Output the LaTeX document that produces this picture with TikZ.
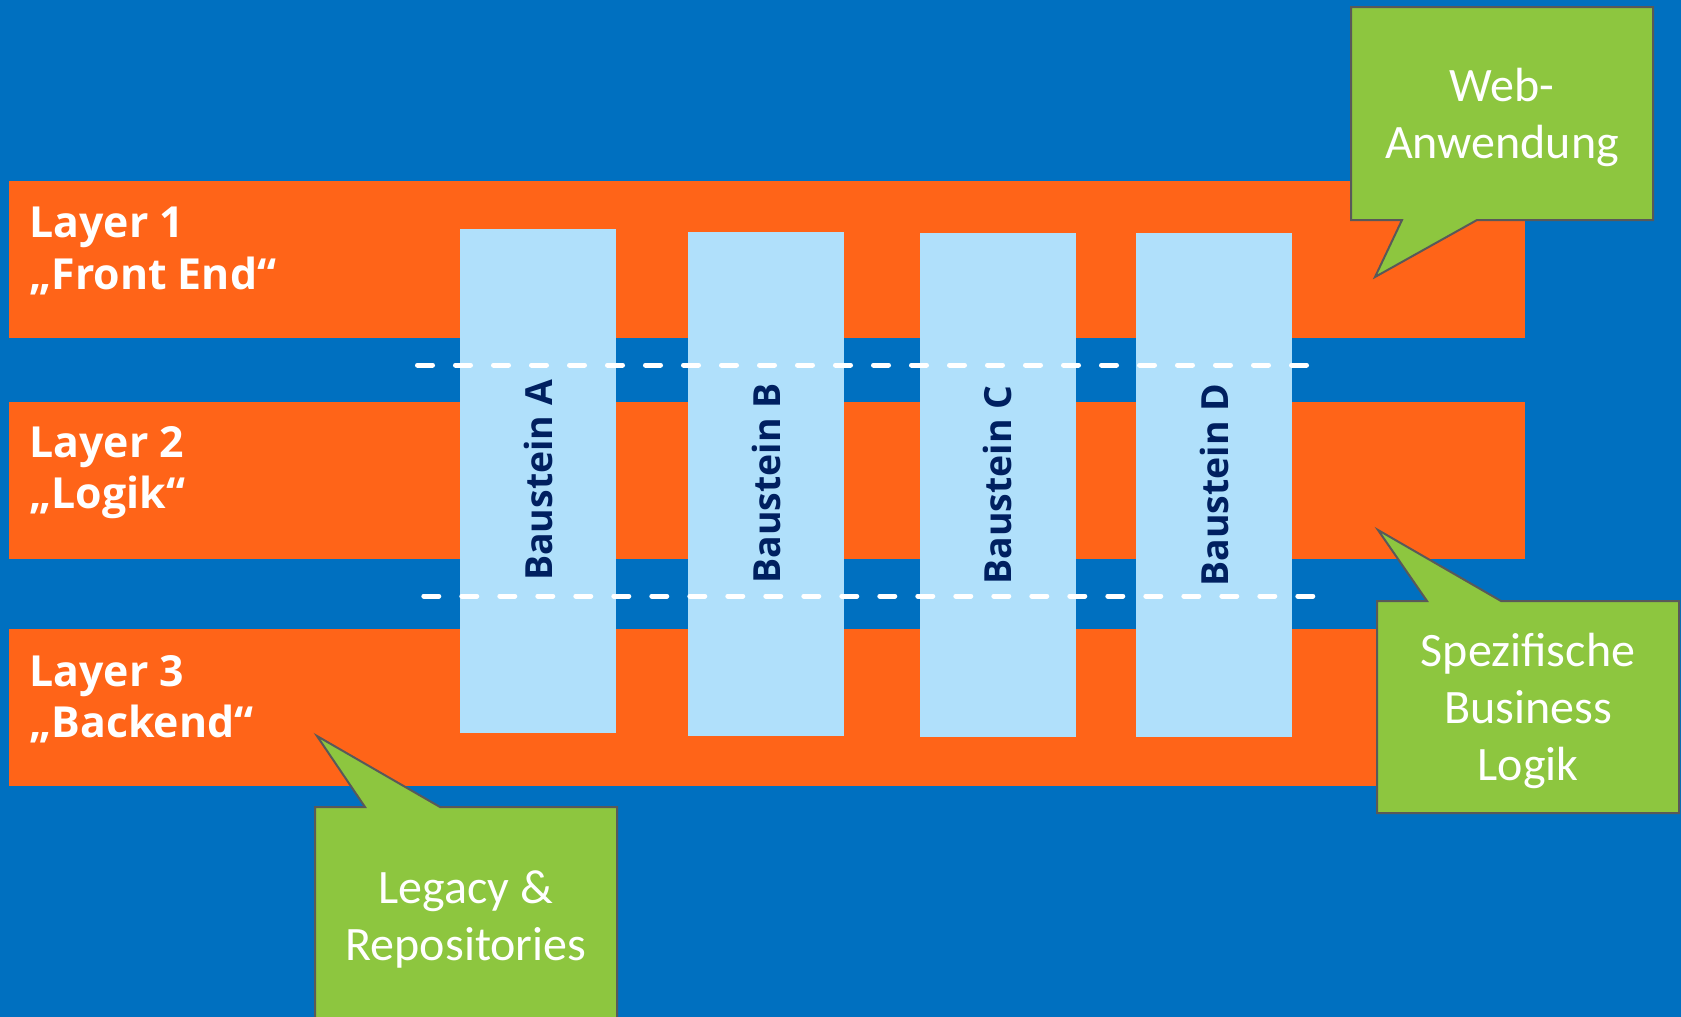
\documentclass[tikz,border=0pt]{standalone}
\usepackage{fontspec}
\usepackage{xcolor}
\newfontfamily\layerfont{Open Sans}
\newfontfamily\calloutfont{Carlito}
\definecolor{bgblue}{HTML}{0070C0}
\definecolor{layerorange}{HTML}{FF6418}
\definecolor{boxblue}{HTML}{B0E0FB}
\definecolor{boxtext}{HTML}{002060}
\definecolor{calloutgreen}{HTML}{8DC63F}
\definecolor{calloutline}{HTML}{595959}

\tikzset{
  layerlabel/.style={anchor=north west, align=left, text=white,
    font=\layerfont\bfseries\fontsize{21.4}{25.7}\selectfont},
  baustein/.style={fill=boxblue, text=boxtext, rotate=90,
    minimum width=252pt, minimum height=78pt,
    font=\layerfont\bfseries\fontsize{18.7}{22}\selectfont},
  callout/.style={align=center, text=white,
    font=\calloutfont\fontsize{24}{28.5}\selectfont},
  calloutborder/.style={fill=calloutgreen, draw=calloutline, line width=1pt},
  trenner/.style={white, line width=2.5pt, line cap=round,
    dash pattern=on 7.5pt off 11.5pt}
}

\begin{document}
\begin{tikzpicture}[x=0.5pt, y=-0.5pt]
\tikzstyle{every node}+=[inner sep=0pt]
\clip (0,0) rectangle (1681,1017);
\fill[bgblue] (0,0) rectangle (1681,1017);
% layers
\fill[layerorange] (9,181) rectangle (1525,338);
\fill[layerorange] (9,402) rectangle (1525,559);
\fill[layerorange] (9,629) rectangle (1525,786);
\node[layerlabel] (lay1) at (29,207) {Layer 1\\„Front End“};
\node[layerlabel] (lay2) at (29,426) {Layer 2\\„Logik“};
\node[layerlabel] (lay3) at (29,655) {Layer 3\\„Backend“};
% bausteine
\node[baustein] (bsA) at (538,480.5) {Baustein A};
\node[baustein] (bsB) at (766,483.5) {Baustein B};
\node[baustein] (bsC) at (997.5,485) {Baustein C};
\node[baustein] (bsD) at (1214,485) {Baustein D};
\draw[trenner] (417.5,365) -- (1308,365);
\draw[trenner] (423.8,596) -- (1315.5,596);
% callouts
\coordinate (webtip) at (1375,277);
\path[calloutborder] (1351,7) -- (1653,7) -- (1653,220) -- (1477,220)
  -- (webtip) -- (1402,220) -- (1351,220) -- cycle;
\node[callout] (web) at (1502,117) {Web-\\Anwendung};
\coordinate (speztip) at (1378,530);
\path[calloutborder] (1377,601) -- (1427,601) -- (speztip) -- (1501,601)
  -- (1679,601) -- (1679,813) -- (1377,813) -- cycle;
\node[callout] (spez) at (1528,711) {Spezifische\\Business\\Logik};
\coordinate (legacytip) at (317,736);
\path[calloutborder] (315,807) -- (365,807) -- (legacytip) -- (440,807)
  -- (617,807) -- (617,1030) -- (315,1030) -- cycle;
\node[callout] (legacy) at (466,919) {Legacy \&\\Repositories};
\end{tikzpicture}
\end{document}
